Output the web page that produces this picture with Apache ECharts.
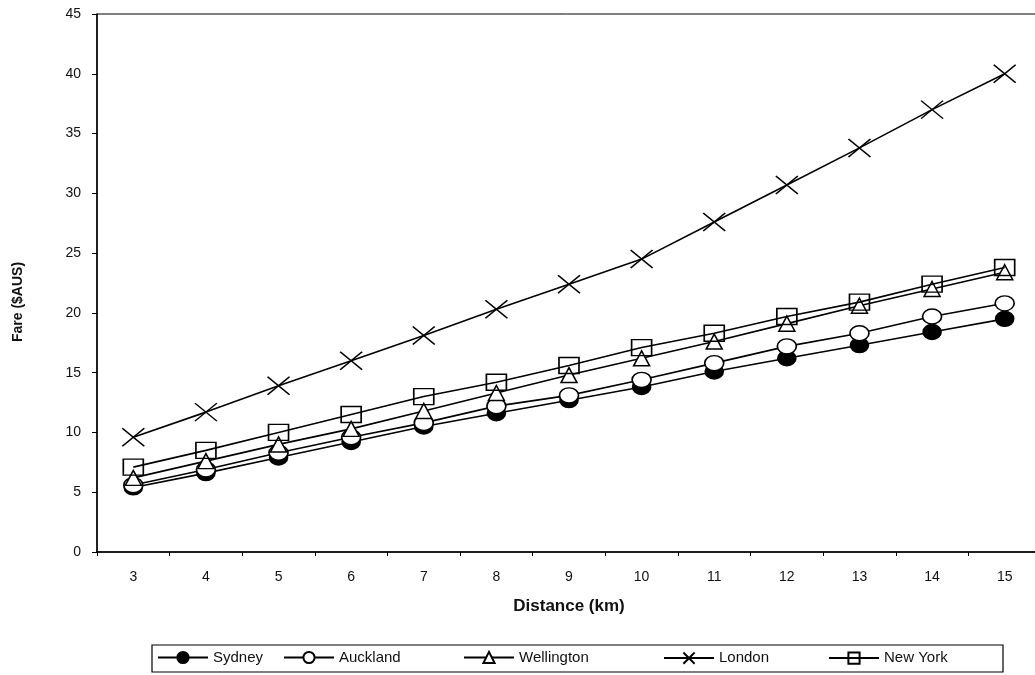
<!DOCTYPE html>
<html><head><meta charset="utf-8">
<script src="https://cdn.jsdelivr.net/npm/echarts@6/dist/echarts.min.js"></script>
<style>html,body{margin:0;padding:0;background:#fff}#c{width:1035px;height:675px}</style>
</head><body><div id="c"></div>
<script>
const distances = ['3','4','5','6','7','8','9','10','11','12','13','14','15'];
const sydney =     [5.4, 6.6, 7.9, 9.2, 10.5, 11.6, 12.7, 13.8, 15.1, 16.2, 17.3, 18.4, 19.5];
const auckland =   [5.6, 6.9, 8.3, 9.6, 10.8, 12.2, 13.1, 14.4, 15.8, 17.2, 18.3, 19.7, 20.8];
const wellington = [6.2, 7.6, 9.0, 10.3, 11.8, 13.3, 14.8, 16.2, 17.6, 19.1, 20.6, 22.0, 23.4];
const london =     [9.6, 11.7, 13.9, 16.0, 18.1, 20.3, 22.4, 24.5, 27.6, 30.7, 33.8, 37.0, 40.0];
const newYork =    [7.1, 8.5, 10.0, 11.5, 13.0, 14.2, 15.6, 17.1, 18.3, 19.7, 20.9, 22.4, 23.8];
const yTicks = { min: 0, max: 45, interval: 5 };
const seriesNames = ['Sydney', 'Auckland', 'Wellington', 'London', 'New York'];

const FONT = '"Liberation Sans", Arial, sans-serif';
function line(name, data, symbol, size, fill, z) {
  return {
    name, type: 'line', data, symbol, symbolSize: size, z,
    showSymbol: true,
    lineStyle: { color: '#000', width: 1.6 },
    itemStyle: { color: fill, borderColor: '#000', borderWidth: 1.5 },
    emphasis: { disabled: true },
    animation: false
  };
}
const legendLefts = [157, 283, 463, 663, 828];
const legends = seriesNames.map((n, i) => ({
  left: legendLefts[i], top: 650, padding: 0,
  itemWidth: 50, itemHeight: 14,
  textStyle: { fontFamily: FONT, fontSize: 15, color: '#111' },
  data: [n]
}));
const chart = echarts.init(document.getElementById('c'));
chart.setOption({
  backgroundColor: '#fff',
  animation: false,
  grid: { left: 97, width: 944, top: 14, bottom: 123, outerBoundsMode: 'none', containLabel: false,
          show: true, borderColor: '#000', borderWidth: 1 },
  xAxis: {
    type: 'category', data: distances, boundaryGap: true,
    name: 'Distance (km)', nameLocation: 'middle', nameGap: 46,
    nameTextStyle: { fontFamily: FONT, fontSize: 17, fontWeight: 'bold', color: '#111' },
    axisLine: { lineStyle: { color: '#000', width: 1.5 } },
    axisTick: { show: true, length: 4, lineStyle: { color: '#000' } },
    axisLabel: { fontFamily: FONT, fontSize: 14, color: '#111', margin: 18 },
    splitLine: { show: false }
  },
  yAxis: {
    type: 'value', min: yTicks.min, max: yTicks.max, interval: yTicks.interval,
    axisLine: { show: true, lineStyle: { color: '#000', width: 1.5 } },
    axisTick: { show: true, length: 5, lineStyle: { color: '#000' } },
    axisLabel: { fontFamily: FONT, fontSize: 14, color: '#111', margin: 16 },
    splitLine: { show: false }
  },
  graphic: [{
    type: 'text', x: 18, y: 302, rotation: Math.PI / 2,
    style: { text: 'Fare ($AUS)', font: 'bold 14px ' + FONT, fill: '#111', textAlign: 'center', textVerticalAlign: 'middle' }
  }, {
    type: 'rect', shape: { x: 152, y: 645, width: 851, height: 27 },
    style: { fill: 'none', stroke: '#000', lineWidth: 1.2 }, z: 0
  }],
  legend: legends,
  series: [
    line(seriesNames[0], sydney, 'circle', [18, 15], '#000', 2),
    line(seriesNames[1], auckland, 'circle', [19, 15], '#fff', 3),
    line(seriesNames[2], wellington, 'triangle', [16, 15], '#fff', 4),
    line(seriesNames[3], london, 'path://M0,0L10,8M10,0L0,8', [22, 18], 'none', 5),
    line(seriesNames[4], newYork, 'rect', [20, 16], 'none', 6)
  ]
});
</script></body></html>
